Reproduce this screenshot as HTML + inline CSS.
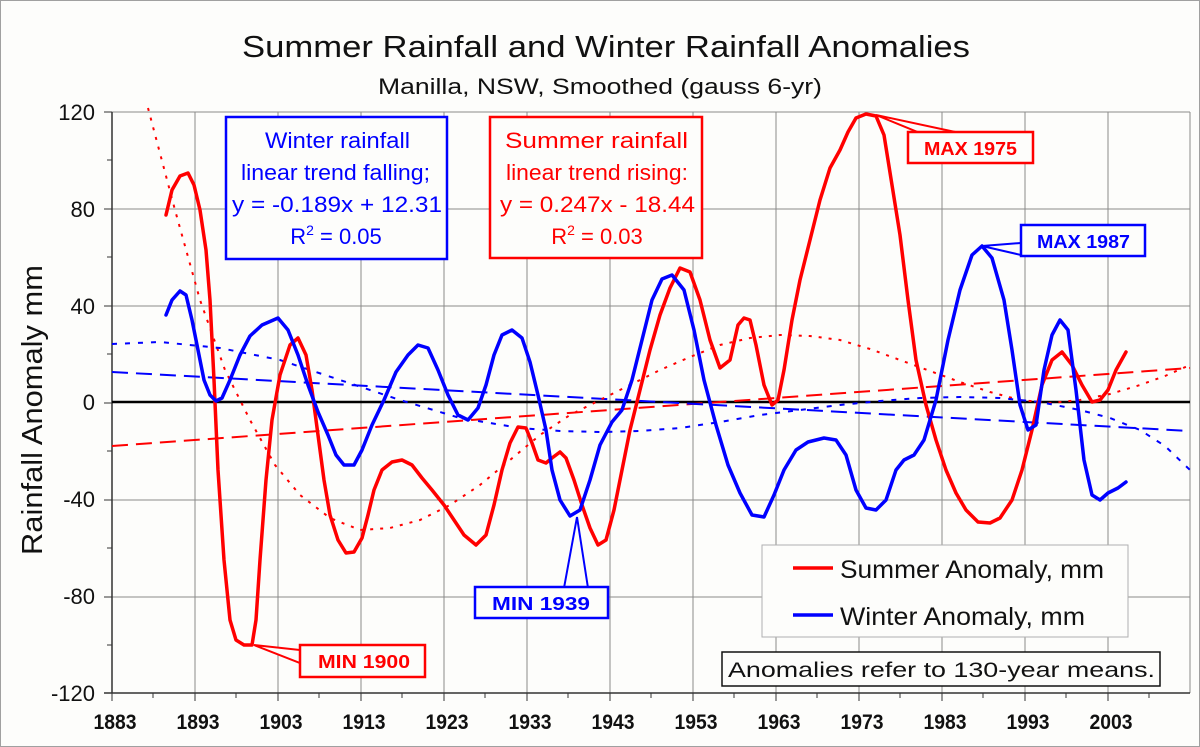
<!DOCTYPE html>
<html><head><meta charset="utf-8"><style>
html,body{margin:0;padding:0;background:#fff;}
svg{display:block;font-family:"Liberation Sans",Arial,sans-serif;}
</style></head><body>
<svg width="1200" height="747" viewBox="0 0 1200 747" xmlns="http://www.w3.org/2000/svg">
<rect x="0.5" y="0.5" width="1199" height="746" fill="#fdfdfb" stroke="#a0a0a0"/>
<g stroke="#8a8a8a" stroke-width="1">
<line x1="112" y1="112" x2="1190" y2="112"/><line x1="112" y1="209" x2="1190" y2="209"/>
<line x1="112" y1="306" x2="1190" y2="306"/><line x1="112" y1="500" x2="1190" y2="500"/>
<line x1="112" y1="597" x2="1190" y2="597"/>
<line x1="195" y1="112" x2="195" y2="693"/><line x1="278" y1="112" x2="278" y2="693"/>
<line x1="361" y1="112" x2="361" y2="693"/><line x1="444" y1="112" x2="444" y2="693"/>
<line x1="527" y1="112" x2="527" y2="693"/><line x1="610" y1="112" x2="610" y2="693"/>
<line x1="693" y1="112" x2="693" y2="693"/><line x1="776" y1="112" x2="776" y2="693"/>
<line x1="859" y1="112" x2="859" y2="693"/><line x1="942" y1="112" x2="942" y2="693"/>
<line x1="1025" y1="112" x2="1025" y2="693"/><line x1="1108" y1="112" x2="1108" y2="693"/>
<line x1="1190" y1="112" x2="1190" y2="693"/>
</g>
<g stroke="#333" stroke-width="1.5">
<line x1="112" y1="112" x2="112" y2="693"/><line x1="104" y1="693" x2="1190" y2="693"/>
</g>
<g stroke="#333" stroke-width="1">
<path d="M104 112h8M104 209h8M104 306h8M104 403h8M104 500h8M104 597h8M107 160h5M107 257h5M107 354h5M107 451h5M107 548h5M107 645h5"/>
<path d="M112 693v8M195 693v8M278 693v8M361 693v8M444 693v8M527 693v8M610 693v8M693 693v8M776 693v8M859 693v8M942 693v8M1025 693v8M1108 693v8M153 693v5M236 693v5M319 693v5M402 693v5M485 693v5M568 693v5M651 693v5M734 693v5M817 693v5M900 693v5M983 693v5M1066 693v5M1149 693v5"/>
</g>
<line x1="112" y1="402" x2="1190" y2="402" stroke="#000" stroke-width="2.5"/>
<g font-size="22" fill="#111" text-anchor="end">
<text x="95" y="120">120</text><text x="95" y="217">80</text><text x="95" y="314">40</text>
<text x="95" y="410">0</text><text x="95" y="507">-40</text><text x="95" y="604">-80</text><text x="95" y="701">-120</text>
</g>
<g font-size="21" font-weight="bold" fill="#111" text-anchor="middle">
<text x="115" y="729" textLength="43" lengthAdjust="spacingAndGlyphs">1883</text>
<text x="198" y="729" textLength="43" lengthAdjust="spacingAndGlyphs">1893</text>
<text x="281" y="729" textLength="43" lengthAdjust="spacingAndGlyphs">1903</text>
<text x="364" y="729" textLength="43" lengthAdjust="spacingAndGlyphs">1913</text>
<text x="447" y="729" textLength="43" lengthAdjust="spacingAndGlyphs">1923</text>
<text x="530" y="729" textLength="43" lengthAdjust="spacingAndGlyphs">1933</text>
<text x="613" y="729" textLength="43" lengthAdjust="spacingAndGlyphs">1943</text>
<text x="696" y="729" textLength="43" lengthAdjust="spacingAndGlyphs">1953</text>
<text x="779" y="729" textLength="43" lengthAdjust="spacingAndGlyphs">1963</text>
<text x="862" y="729" textLength="43" lengthAdjust="spacingAndGlyphs">1973</text>
<text x="945" y="729" textLength="43" lengthAdjust="spacingAndGlyphs">1983</text>
<text x="1028" y="729" textLength="43" lengthAdjust="spacingAndGlyphs">1993</text>
<text x="1111" y="729" textLength="43" lengthAdjust="spacingAndGlyphs">2003</text>
</g>
<text x="242" y="57" font-size="31" fill="#111" textLength="728" lengthAdjust="spacingAndGlyphs">Summer Rainfall and Winter Rainfall Anomalies</text>
<text x="378" y="94" font-size="22" fill="#111" textLength="444" lengthAdjust="spacingAndGlyphs">Manilla, NSW, Smoothed (gauss 6-yr)</text>
<text transform="translate(42,555) rotate(-90)" font-size="29" fill="#111" textLength="290" lengthAdjust="spacingAndGlyphs">Rainfall Anomaly mm</text>
<line x1="112" y1="446" x2="1190" y2="368" stroke="#f00" stroke-width="2" stroke-dasharray="16,8"/>
<line x1="112" y1="372" x2="1190" y2="431" stroke="#00f" stroke-width="2" stroke-dasharray="16,8"/>
<polyline fill="none" stroke="#f00" stroke-width="2" stroke-dasharray="3,7" points="148,108 175,210 200,300 225,370 250,420 275,465 300,495 330,518 360,530 390,528 420,520 450,505 480,485 510,460 540,435 570,415 600,400 630,385 660,370 690,357 720,345 750,338 780,335 810,336 840,340 870,349 900,360 930,371 960,382 990,392 1020,400 1050,403 1080,400 1110,394 1140,385 1165,376 1190,365"/>
<polyline fill="none" stroke="#00f" stroke-width="2" stroke-dasharray="5,8" points="112,344 160,342 220,348 280,360 340,380 400,400 460,418 520,428 560,431 600,432 640,431 680,428 720,422 760,415 800,410 840,405 880,401 920,398 960,397 1000,398 1040,402 1080,410 1110,418 1140,430 1165,446 1190,470"/>
<polyline fill="none" stroke="#f00" stroke-width="3.5" stroke-linejoin="round" stroke-linecap="round" points="166,215 172,190 180,176 188,173 194,185 200,210 206,250 210,300 214,380 218,470 224,560 230,620 236,640 244,645 252,645 256,620 260,560 266,480 272,420 280,375 290,345 298,338 306,355 312,390 318,435 324,480 330,515 338,540 346,553 354,552 362,538 368,515 374,490 382,470 392,462 402,460 412,465 422,478 432,490 444,505 454,520 464,535 476,545 486,535 494,505 502,470 510,443 518,427 526,428 532,443 538,460 546,463 552,458 560,452 566,458 574,480 582,505 590,528 598,545 606,540 614,510 622,470 630,430 640,390 650,350 660,315 670,288 680,268 690,272 700,300 710,340 720,368 730,360 738,325 744,318 750,320 756,345 764,385 772,405 778,400 784,370 792,320 800,280 810,240 820,200 830,168 840,150 848,132 856,118 866,114 876,116 884,135 892,185 900,235 908,300 916,360 926,405 936,440 946,470 956,493 966,510 978,522 990,523 1000,518 1012,500 1022,470 1032,430 1042,385 1052,360 1062,352 1072,365 1082,385 1092,402 1100,400 1108,390 1116,370 1126,352"/>
<polyline fill="none" stroke="#00f" stroke-width="3.5" stroke-linejoin="round" stroke-linecap="round" points="166,315 172,300 180,291 186,295 192,320 198,350 204,380 210,395 216,401 222,398 230,380 240,355 250,336 262,325 278,318 288,330 298,355 308,385 318,412 328,435 336,455 344,465 354,465 362,450 372,425 384,400 396,372 408,355 418,345 428,348 438,370 448,395 458,415 468,420 478,408 486,385 494,355 502,335 512,330 522,338 530,362 538,395 546,430 552,470 560,500 570,516 580,510 590,480 600,445 612,422 622,410 632,380 642,340 652,300 662,279 672,275 684,290 694,330 704,380 716,425 728,465 740,493 752,515 764,517 774,495 784,470 796,450 808,442 824,438 836,440 846,455 856,490 866,508 876,510 886,500 896,470 904,460 914,455 924,440 936,400 948,340 960,290 972,255 982,246 992,258 1004,300 1012,350 1020,405 1028,430 1036,425 1044,370 1052,335 1060,320 1068,330 1076,390 1084,460 1092,495 1100,500 1108,493 1118,488 1126,482"/>
<rect x="226" y="117" width="221" height="142" fill="#fdfdfb" stroke="#00f" stroke-width="2.5"/>
<g font-size="22" fill="#00f">
<text x="265" y="148" textLength="145" lengthAdjust="spacingAndGlyphs">Winter rainfall</text>
<text x="241" y="180" textLength="189" lengthAdjust="spacingAndGlyphs">linear trend falling;</text>
<text x="232" y="212" textLength="210" lengthAdjust="spacingAndGlyphs">y = -0.189x + 12.31</text>
<text x="336" y="244" text-anchor="middle">R<tspan font-size="14" dy="-9">2</tspan><tspan dy="9"> = 0.05</tspan></text>
</g>
<rect x="490" y="117" width="212" height="141" fill="#fdfdfb" stroke="#f00" stroke-width="2.5"/>
<g font-size="22" fill="#f00">
<text x="505" y="148" textLength="183" lengthAdjust="spacingAndGlyphs">Summer rainfall</text>
<text x="506" y="180" textLength="182" lengthAdjust="spacingAndGlyphs">linear trend rising:</text>
<text x="500" y="212" textLength="195" lengthAdjust="spacingAndGlyphs">y = 0.247x - 18.44</text>
<text x="597" y="244" text-anchor="middle">R<tspan font-size="14" dy="-9">2</tspan><tspan dy="9"> = 0.03</tspan></text>
</g>
<polygon points="876,115 920,133 960,133" fill="#fdfdfb" stroke="#f00" stroke-width="2"/>
<rect x="908" y="132" width="125" height="31" fill="#fdfdfb" stroke="#f00" stroke-width="2.5"/>
<text x="924" y="155" font-size="18" font-weight="bold" fill="#f00" textLength="93" lengthAdjust="spacingAndGlyphs">MAX 1975</text>
<polygon points="982,246 1021,243 1021,255" fill="#fdfdfb" stroke="#00f" stroke-width="2"/>
<rect x="1021" y="225" width="124" height="31" fill="#fdfdfb" stroke="#00f" stroke-width="2.5"/>
<text x="1037" y="248" font-size="18" font-weight="bold" fill="#00f" textLength="93" lengthAdjust="spacingAndGlyphs">MAX 1987</text>
<polygon points="577,517 564,588 588,588" fill="#fdfdfb" stroke="#00f" stroke-width="2"/>
<rect x="475" y="587" width="133" height="31" fill="#fdfdfb" stroke="#00f" stroke-width="2.5"/>
<text x="492" y="610" font-size="18" font-weight="bold" fill="#00f" textLength="98" lengthAdjust="spacingAndGlyphs">MIN 1939</text>
<polygon points="254,645 300,650 300,663" fill="#fdfdfb" stroke="#f00" stroke-width="2"/>
<rect x="300" y="645" width="125" height="32" fill="#fdfdfb" stroke="#f00" stroke-width="2.5"/>
<text x="318" y="668" font-size="18" font-weight="bold" fill="#f00" textLength="92" lengthAdjust="spacingAndGlyphs">MIN 1900</text>
<rect x="762" y="545" width="366" height="92" fill="#fdfdfb" stroke="#b0b0b0" stroke-width="1"/>
<line x1="793" y1="568" x2="833" y2="568" stroke="#f00" stroke-width="3.5"/>
<line x1="793" y1="615" x2="833" y2="615" stroke="#00f" stroke-width="3.5"/>
<text x="840" y="578" font-size="25" fill="#111" textLength="264" lengthAdjust="spacingAndGlyphs">Summer Anomaly, mm</text>
<text x="840" y="625" font-size="25" fill="#111" textLength="245" lengthAdjust="spacingAndGlyphs">Winter Anomaly, mm</text>
<rect x="722" y="652" width="438" height="34" fill="#fdfdfb" stroke="#111" stroke-width="1.5"/>
<text x="728" y="677" font-size="21" fill="#111" textLength="427" lengthAdjust="spacingAndGlyphs">Anomalies refer to 130-year means.</text>
</svg>
</body></html>
